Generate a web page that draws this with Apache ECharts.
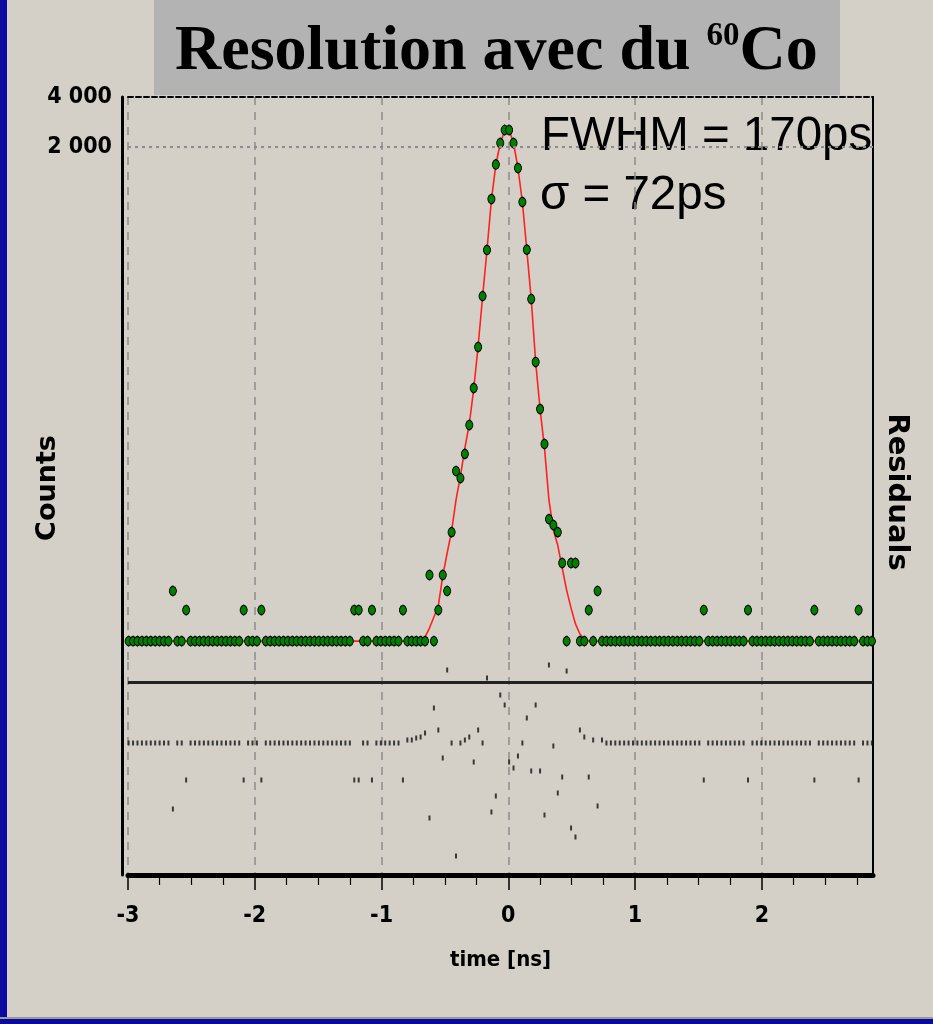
<!DOCTYPE html>
<html>
<head>
<meta charset="utf-8">
<title>Resolution avec du 60Co</title>
<script src="https://cdn.jsdelivr.net/npm/echarts@6/dist/echarts.min.js"></script>
<style>
  html, body { margin: 0; padding: 0; background: #d4d0c8; }
  #page { position: relative; width: 933px; height: 1024px; overflow: hidden; }
  #chart { position: absolute; left: 0; top: 0; width: 933px; height: 1024px; }
  .edgeLeft { position: absolute; left: 0; top: 0; width: 7px; height: 1024px; background: #0a0aa0; }
  .edgeBottom { position: absolute; left: 0; top: 1017px; width: 933px; height: 7px; background: #0a0aa0; border-top: 2px solid #9c9a94; }
</style>
</head>
<body>
<div id="page">
  <div id="chart"></div>
  <div class="edgeLeft"></div>
  <div class="edgeBottom"></div>
</div>
<script>
// histogram bins (ns): centre of first bin and bin width
const binStart = -2.995;
const binWidth = 0.0349;

// measured counts per bin
const counts = [
  2.12, 2.12, 2.12, 2.12, 2.12, 2.12, 2.12, 2.12, 2.12, 2.12,
  4.25, 2.12, 2.12, 3.26, 2.12, 2.12, 2.12, 2.12, 2.12, 2.12,
  2.12, 2.12, 2.12, 2.12, 2.12, 2.12, 3.26, 2.12, 2.12, 2.12,
  3.26, 2.12, 2.12, 2.12, 2.12, 2.12, 2.12, 2.12, 2.12, 2.12,
  2.12, 2.12, 2.12, 2.12, 2.12, 2.12, 2.12, 2.12, 2.12, 2.12,
  2.12, 3.26, 3.26, 2.12, 2.12, 3.26, 2.12, 2.12, 2.12, 2.12,
  2.12, 2.12, 3.26, 2.12, 2.12, 2.12, 2.12, 2.12, 5.3, 2.12,
  3.26, 5.3, 4.25, 9.6, 22.4, 20.3, 28.4, 42.4, 70.8, 125,
  253, 480, 972, 1570, 2114, 2531, 2531, 2114, 1495, 933,
  482, 243, 101.5, 52.9, 32.6, 11.5, 10.6, 9.6, 6.26, 2.12,
  6.26, 6.26, 2.12, 2.12, 3.26, 2.12, 4.25, 2.12, 2.12, 2.12,
  2.12, 2.12, 2.12, 2.12, 2.12, 2.12, 2.12, 2.12, 2.12, 2.12,
  2.12, 2.12, 2.12, 2.12, 2.12, 2.12, 2.12, 2.12, 2.12, 2.12,
  3.26, 2.12, 2.12, 2.12, 2.12, 2.12, 2.12, 2.12, 2.12, 2.12,
  3.26, 2.12, 2.12, 2.12, 2.12, 2.12, 2.12, 2.12, 2.12, 2.12,
  2.12, 2.12, 2.12, 2.12, 2.12, 3.26, 2.12, 2.12, 2.12, 2.12,
  2.12, 2.12, 2.12, 2.12, 2.12, 3.26, 2.12, 2.12, 2.12
];

// gaussian fit read per bin
const fit = [
  2.12, 2.12, 2.12, 2.12, 2.12, 2.12, 2.12, 2.12, 2.12, 2.12,
  2.12, 2.12, 2.12, 2.12, 2.12, 2.12, 2.12, 2.12, 2.12, 2.12,
  2.12, 2.12, 2.12, 2.12, 2.12, 2.12, 2.12, 2.12, 2.12, 2.12,
  2.12, 2.12, 2.12, 2.12, 2.12, 2.12, 2.12, 2.12, 2.12, 2.12,
  2.12, 2.12, 2.12, 2.12, 2.12, 2.12, 2.12, 2.12, 2.12, 2.12,
  2.12, 2.12, 2.12, 2.12, 2.12, 2.12, 2.12, 2.12, 2.12, 2.12,
  2.12, 2.12, 2.12, 2.12, 2.12, 2.12, 2.12, 2.24, 2.54, 2.96,
  3.45, 5.23, 7.19, 9.75, 15.0, 20.9, 30.8, 43.0, 69.8, 126.8,
  250, 480, 960, 1559, 2114, 2496, 2531, 2114, 1495, 933,
  480, 243, 101.5, 52.9, 30.8, 15.0, 9.9, 8.0, 5.84, 4.3,
  3.35, 2.69, 2.34, 2.18, 2.12, 2.12, 2.12, 2.12, 2.12, 2.12,
  2.12, 2.12, 2.12, 2.12, 2.12, 2.12, 2.12, 2.12, 2.12, 2.12,
  2.12, 2.12, 2.12, 2.12, 2.12, 2.12, 2.12, 2.12, 2.12, 2.12,
  2.12, 2.12, 2.12, 2.12, 2.12, 2.12, 2.12, 2.12, 2.12, 2.12,
  2.12, 2.12, 2.12, 2.12, 2.12, 2.12, 2.12, 2.12, 2.12, 2.12,
  2.12, 2.12, 2.12, 2.12, 2.12, 2.12, 2.12, 2.12, 2.12, 2.12,
  2.12, 2.12, 2.12, 2.12, 2.12, 2.12, 2.12, 2.12, 2.12
];

// residuals per bin (arbitrary units, 0 = solid reference line)
const residuals = [
  -6.1, -6.1, -6.1, -6.1, -6.1, -6.1, -6.1, -6.1, -6.1, -6.1,
  -12.7, -6.1, -6.1, -9.8, -6.1, -6.1, -6.1, -6.1, -6.1, -6.1,
  -6.1, -6.1, -6.1, -6.1, -6.1, -6.1, -9.8, -6.1, -6.1, -6.1,
  -9.8, -6.1, -6.1, -6.1, -6.1, -6.1, -6.1, -6.1, -6.1, -6.1,
  -6.1, -6.1, -6.1, -6.1, -6.1, -6.1, -6.1, -6.1, -6.1, -6.1,
  -6.1, -9.8, -9.8, -6.1, -6.1, -9.8, -6.1, -6.1, -6.1, -6.1,
  -6.1, -6.1, -9.8, -5.8, -5.8, -5.6, -5.5, -5.1, -13.6, -2.6,
  -4.8, -7.6, 1.2, -6.1, -17.4, -6.1, -5.8, -5.5, -8.0, -4.8,
  -6.1, 0.4, -13.0, -11.4, -1.3, -2.3, -8.0, -8.6, -7.4, -6.1,
  -3.6, -8.9, -2.3, -8.9, -13.3, 1.7, -6.4, -11.1, -9.5, 1.1,
  -14.6, -15.5, -4.8, -5.5, -9.5, -5.8, -12.4, -5.8, -6.1, -6.1,
  -6.1, -6.1, -6.1, -6.1, -6.1, -6.1, -6.1, -6.1, -6.1, -6.1,
  -6.1, -6.1, -6.1, -6.1, -6.1, -6.1, -6.1, -6.1, -6.1, -6.1,
  -9.8, -6.1, -6.1, -6.1, -6.1, -6.1, -6.1, -6.1, -6.1, -6.1,
  -9.8, -6.1, -6.1, -6.1, -6.1, -6.1, -6.1, -6.1, -6.1, -6.1,
  -6.1, -6.1, -6.1, -6.1, -6.1, -9.8, -6.1, -6.1, -6.1, -6.1,
  -6.1, -6.1, -6.1, -6.1, -6.1, -9.8, -6.1, -6.1, -6.1
];

const majorTicks = [-3, -2, -1, 0, 1, 2];
const minorTicks = [-2.75, -2.5, -2.25, -1.75, -1.5, -1.25, -0.75, -0.5, -0.25,
  0.25, 0.5, 0.75, 1.25, 1.5, 1.75, 2.25, 2.5, 2.75];
const countLabels = [2000, 4000];

const times = counts.map((_, i) => +(binStart + i * binWidth).toFixed(4));

// narrow bold look for the axis numbers (font-stretch goes into the canvas font shorthand)
const narrow = "'DejaVu Sans', sans-serif";
const gridDash = { color: '#8c8c8c', width: 1.5, type: [8, 7] };
const numLabel = { color: '#000', fontFamily: narrow, fontWeight: 'bold condensed', fontSize: 23 };

const chart = echarts.init(document.getElementById('chart'), null, { renderer: 'canvas' });

chart.setOption({
  animation: false,
  backgroundColor: 'transparent',
  title: {
    text: '{m|Resolution avec du }{s|60}{m|Co}',
    left: 175,
    top: 20,
    padding: 0,
    textStyle: {
      rich: {
        m: { fontFamily: "'Liberation Serif', 'Times New Roman', serif", fontWeight: 'bold', fontSize: 64, lineHeight: 70, verticalAlign: 'top', color: '#000' },
        s: { fontFamily: "'Liberation Serif', 'Times New Roman', serif", fontWeight: 'bold', fontSize: 33, lineHeight: 60, verticalAlign: 'top', color: '#000' }
      }
    }
  },
  graphic: [
    { type: 'rect', z: -10, shape: { x: 154, y: 0, width: 686, height: 95 }, style: { fill: '#b3b3b3' } },
    { type: 'text', x: 541, y: 137, style: { text: 'FWHM = 170ps', fontFamily: "'Liberation Sans', Arial, sans-serif", fontSize: 47.5, fill: '#000', verticalAlign: 'middle' } },
    { type: 'text', x: 540, y: 196, style: { text: 'σ = 72ps', fontFamily: "'Liberation Sans', Arial, sans-serif", fontSize: 47.5, fill: '#000', verticalAlign: 'middle' } },
    { type: 'text', x: 48, y: 488, rotation: Math.PI / 2, style: { text: 'Counts', fontFamily: "'DejaVu Sans', sans-serif", fontWeight: 'bold', fontSize: 27, fill: '#000', align: 'center', verticalAlign: 'middle' } },
    { type: 'text', x: 897, y: 492, rotation: -Math.PI / 2, style: { text: 'Residuals', fontFamily: "'DejaVu Sans', sans-serif", fontWeight: 'bold', fontSize: 29, fill: '#000', align: 'center', verticalAlign: 'middle' } }
  ],
  grid: [
    { left: 128, right: 60, top: 97, height: 565 },
    { left: 128, right: 60, top: 662, height: 213 }
  ],
  xAxis: [
    {
      gridIndex: 0, type: 'value', min: -3, max: 2.877, interval: 1, position: 'top',
      axisLine: { show: true, onZero: false, lineStyle: { color: '#000', width: 2, type: [5, 3] } },
      axisTick: { show: false }, axisLabel: { show: false },
      splitLine: { show: true, lineStyle: gridDash }
    },
    {
      gridIndex: 1, type: 'value', min: -3, max: 2.877, interval: 1, position: 'bottom',
      axisLine: { show: true, onZero: false, lineStyle: { color: '#000', width: 5 } },
      axisTick: { show: true, customValues: majorTicks, length: 15, lineStyle: { color: '#000', width: 1.5 } },
      axisLabel: { show: true, customValues: majorTicks, margin: 30, ...numLabel },
      splitLine: { show: true, lineStyle: gridDash },
      name: 'time [ns]', nameLocation: 'middle', nameGap: 74,
      nameTextStyle: { ...numLabel, fontSize: 22 }
    },
    {
      gridIndex: 1, type: 'value', min: -3, max: 2.877, position: 'bottom',
      axisLine: { show: false, onZero: false },
      axisTick: { show: true, customValues: minorTicks, length: 10, lineStyle: { color: '#000', width: 1.2 } },
      axisLabel: { show: false }, splitLine: { show: false }
    }
  ],
  yAxis: [
    {
      gridIndex: 0, type: 'log', min: 1.587, max: 4000, offset: 6,
      axisLine: { show: true, onZero: false, lineStyle: { color: '#000', width: 3 } },
      axisTick: { show: false }, axisLabel: { show: false }, splitLine: { show: false }
    },
    {
      gridIndex: 0, type: 'value', min: 0, max: 1, position: 'right',
      axisLine: { show: true, onZero: false, lineStyle: { color: '#000', width: 2 } },
      axisTick: { show: false }, axisLabel: { show: false }, splitLine: { show: false }
    },
    {
      gridIndex: 1, type: 'value', min: -19.3, max: 2, offset: 6,
      axisLine: { show: true, onZero: false, lineStyle: { color: '#000', width: 3 } },
      axisTick: { show: false }, axisLabel: { show: false }, splitLine: { show: false }
    },
    {
      gridIndex: 1, type: 'value', min: 0, max: 1, position: 'right',
      axisLine: { show: true, onZero: false, lineStyle: { color: '#000', width: 2 } },
      axisTick: { show: false }, axisLabel: { show: false }, splitLine: { show: false }
    }
  ],
  series: [
    {
      name: 'fit', type: 'line', xAxisIndex: 0, yAxisIndex: 0, z: 2,
      data: times.map((t, i) => [t, fit[i]]),
      showSymbol: false, symbol: 'none', silent: true,
      lineStyle: { color: '#ff2020', width: 1.6 }
    },
    {
      name: 'counts', type: 'scatter', xAxisIndex: 0, yAxisIndex: 0, z: 3, clip: false,
      data: times.map((t, i) => [t, counts[i]]),
      symbol: 'path://M3,0 L5,1.5 L6,4 L6,6 L5,8.5 L3,10 L1,8.5 L0,6 L0,4 L1,1.5 Z',
      symbolSize: [7, 10],
      itemStyle: { color: '#008000', borderColor: '#000', borderWidth: 1, opacity: 1 },
      markLine: {
        silent: true, symbol: 'none', animation: false,
        data: countLabels.map(v => ({
          yAxis: v,
          lineStyle: v === 4000 ? { color: 'rgba(0,0,0,0)', width: 1 } : { color: '#8c8c8c', width: 2, type: [3, 4] },
          label: { show: true, position: 'start', distance: 16, formatter: String(v).replace(/(\d)(\d{3})$/, '$1 $2'), ...numLabel }
        }))
      }
    },
    {
      name: 'residuals', type: 'scatter', xAxisIndex: 1, yAxisIndex: 2, z: 3,
      data: times.map((t, i) => [t, residuals[i]]),
      symbol: 'rect', symbolSize: [2, 5],
      itemStyle: { color: '#111' },
      markLine: {
        silent: true, symbol: 'none', animation: false,
        label: { show: false },
        lineStyle: { color: '#222', width: 3, type: 'solid' },
        data: [{ yAxis: 0 }]
      }
    }
  ]
});
</script>
</body>
</html>
